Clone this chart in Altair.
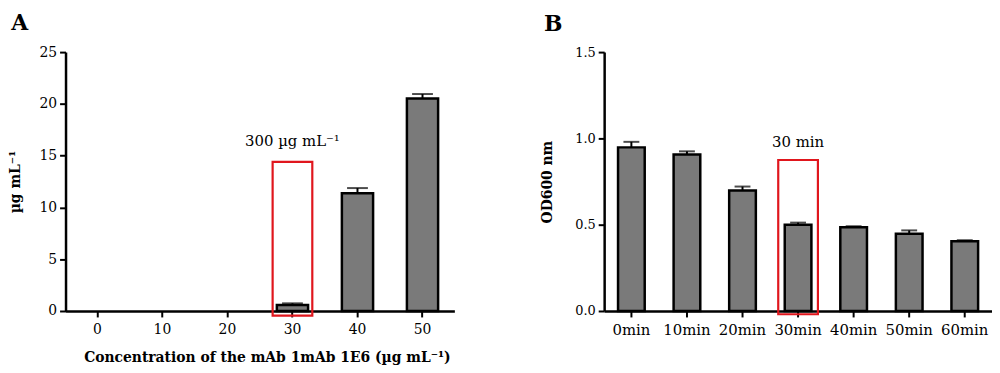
import altair as alt
import pandas as pd

# ---- data ----
conc_labels = ["0", "10", "20", "30", "40", "50"]
conc_values = [0.0, 0.0, 0.0, 0.57, 11.37, 20.53]
conc_err = [0.0, 0.0, 0.0, 0.17, 0.5, 0.42]

time_labels = ["0min", "10min", "20min", "30min", "40min", "50min", "60min"]
od_values = [0.948, 0.907, 0.698, 0.500, 0.485, 0.448, 0.404]
od_err = [0.032, 0.018, 0.023, 0.012, 0.006, 0.019, 0.006]

box_a = {"cat": ["30"], "top": [14.4], "bottom": [-0.45], "label_y": [16.4], "label": ["300 µg mL⁻¹"]}
box_b = {"cat": ["30min"], "top": [0.875], "bottom": [-0.019], "label_y": [0.98], "label": ["30 min"]}

FONT = "DejaVu Serif"
BAR_FILL = "#7a7a7a"
RED = "#e0161d"

df_a = pd.DataFrame({"cat": conc_labels, "val": conc_values, "err": conc_err})
df_a["hi"] = df_a["val"] + df_a["err"]
df_b = pd.DataFrame({"cat": time_labels, "val": od_values, "err": od_err})
df_b["hi"] = df_b["val"] + df_b["err"]


def panel(df, box, order, ymax, ytickvals, yfmt, xtitle, ytitle, letter, w, h, cap,
          ylab_size, ytitle_pad, xlab_size):
    x = alt.X("cat:N", sort=order,
              scale=alt.Scale(paddingInner=0.52, paddingOuter=0.25),
              axis=alt.Axis(title=xtitle, labelAngle=0, labelFont=FONT, labelFontSize=xlab_size,
                            labelColor="black", labelPadding=6,
                            titleFont=FONT, titleFontSize=14, titleFontWeight="bold",
                            titleColor="black", titlePadding=14, titleX=w / 2 + 7,
                            domainColor="black", domainWidth=2.5, tickColor="black",
                            tickWidth=2, tickSize=6))
    y_scale = alt.Scale(domain=[0, ymax], nice=False, zero=True)
    y = alt.Y("val:Q", scale=y_scale,
              axis=alt.Axis(title=ytitle, values=ytickvals, format=yfmt, grid=False,
                            labelFont=FONT, labelFontSize=ylab_size, labelColor="black",
                            labelPadding=3,
                            titleFont=FONT, titleFontSize=14, titleFontWeight="bold",
                            titleColor="black", titlePadding=ytitle_pad,
                            domainColor="black", domainWidth=2.5, tickColor="black",
                            tickWidth=2, tickSize=6))
    base = alt.Chart(df)
    bars = base.mark_bar(fill=BAR_FILL, stroke="black", strokeWidth=2.5).encode(
        x=x, y=y, opacity=alt.condition("datum.val > 0", alt.value(1), alt.value(0)))
    err = base.transform_filter("datum.err > 0").mark_rule(color="black", strokeWidth=2).encode(
        x=alt.X("cat:N", sort=order), y=alt.Y("val:Q", scale=y_scale), y2="hi:Q")
    caps = base.transform_filter("datum.err > 0").mark_tick(color="black", thickness=2, size=cap).encode(
        x=alt.X("cat:N", sort=order), y=alt.Y("hi:Q", scale=y_scale))
    bdf = pd.DataFrame(box)
    rect = alt.Chart(bdf).mark_bar(width=40, fillOpacity=0, stroke=RED, strokeWidth=2.2, clip=False).encode(
        x=alt.X("cat:N", sort=order), y=alt.Y("top:Q", scale=y_scale), y2="bottom:Q")
    txt = alt.Chart(bdf).mark_text(font=FONT, fontSize=15, color="black", baseline="middle").encode(
        x=alt.X("cat:N", sort=order), y=alt.Y("label_y:Q", scale=y_scale), text="label:N")
    return alt.layer(bars, err, caps, rect, txt).properties(
        width=w, height=h,
        title=alt.TitleParams(letter, anchor="start", frame="bounds", font=FONT, fontSize=22,
                              fontWeight="bold", color="black", offset=10, dx=3))


chart_a = panel(df_a, box_a, conc_labels, 25, [0, 5, 10, 15, 20, 25], "d",
                "Concentration of the mAb 1mAb 1E6 (µg mL⁻¹)", "µg mL⁻¹", "A",
                392, 261, 21, 14, 17, 14)
chart_b = panel(df_b, box_b, time_labels, 1.5, [0.0, 0.5, 1.0, 1.5], ".1f",
                "", "OD600 nm", "B",
                391, 261, 16, 13, 20, 15)

chart = alt.hconcat(chart_a, chart_b, spacing=87).properties(
    padding={"left": 0, "top": 3, "right": 0, "bottom": 0}
).configure(background="white", view=alt.ViewConfig(stroke=None))

chart.save("out.html", embed_options={"renderer": "svg", "actions": False})
